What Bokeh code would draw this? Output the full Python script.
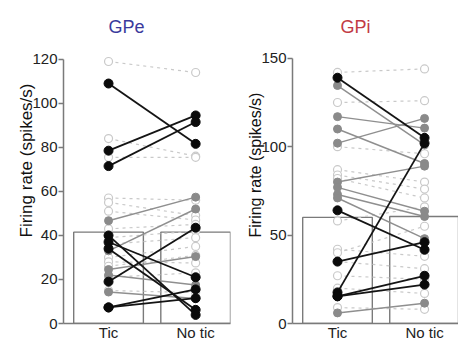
from bokeh.plotting import figure
from bokeh.layouts import row
from bokeh.models import FixedTicker, Range1d, Title
from bokeh.embed import file_html
from bokeh.resources import INLINE

categories = ["Tic", "No tic"]

# GPe
gpe_means = [41.5, 41.5]
gpe_black_tic = [109, 78.5, 71.5, 40, 37, 34, 19, 7.3, 7.3]
gpe_black_notic = [81.6, 94.5, 91.5, 3.9, 21, 6.2, 43.5, 15.5, 11.5]
gpe_gray_tic = [46.7, 33, 24.5, 22, 14.3]
gpe_gray_notic = [57.4, 52, 30.4, 17.5, 11.3]
gpe_ns_tic = [119, 84, 75.5, 57, 55, 51, 43, 39, 36, 30, 28, 26, 21, 15]
gpe_ns_notic = [114, 76, 75.5, 56, 49, 47, 45, 42, 39, 35, 27.5, 31, 23, 14]

# GPi
gpi_means = [60, 60.5]
gpi_black_tic = [139, 64, 35, 17.6, 15.4, 15.4]
gpi_black_notic = [105, 41.7, 46, 102, 27, 22]
gpi_gray_tic = [134.6, 117, 110, 102, 80, 77, 73, 71, 6]
gpi_gray_notic = [101, 110.5, 90.5, 116, 89, 63.5, 60.5, 48, 11.5]
gpi_ns_tic = [142, 125, 100, 87, 84, 82, 58, 42, 40, 35, 27, 20, 9]
gpi_ns_notic = [144, 126, 96, 80, 76, 71, 66, 38, 55, 31, 25, 17, 8]

FONT = "Liberation Sans"


def panel(title, tcolor, title_offset, means, btic, bno, gtic, gno, ntic, nno, yend, yticks,
          left_border, right_border, width, xend, label_size, label_offset, label_standoff):
    p = figure(width=width, height=343, output_backend="svg", toolbar_location=None,
               x_range=Range1d(-0.517, xend), y_range=Range1d(0, yend),
               min_border_left=left_border, min_border_right=right_border,
               min_border_top=50, min_border_bottom=0)
    p.outline_line_color = None
    p.grid.visible = False

    # bars
    p.vbar(x=[0, 1], top=means, width=0.8, bottom=0, fill_color="white",
           line_color="#7a7a7a", line_width=1.4)

    # non-significant (dashed, open)
    for a, b in zip(ntic, nno):
        p.line([0, 1], [a, b], line_color="#c9c9c9", line_dash="3 4", line_width=1.2)
    p.scatter([0] * len(ntic), ntic, size=8, fill_color="white", line_color="#c9c9c9", line_width=1.2)
    p.scatter([1] * len(nno), nno, size=8, fill_color="white", line_color="#c9c9c9", line_width=1.2)

    # gray
    for a, b in zip(gtic, gno):
        p.line([0, 1], [a, b], line_color="#8f8f8f", line_width=1.5)
    p.scatter([0] * len(gtic), gtic, size=8, fill_color="#8a8a8a", line_color="#8a8a8a")
    p.scatter([1] * len(gno), gno, size=8, fill_color="#8a8a8a", line_color="#8a8a8a")

    # black
    for a, b in zip(btic, bno):
        p.line([0, 1], [a, b], line_color="#141414", line_width=1.8)
    p.scatter([0] * len(btic), btic, size=9, fill_color="#0a0a0a", line_color="#0a0a0a")
    p.scatter([1] * len(bno), bno, size=9, fill_color="#0a0a0a", line_color="#0a0a0a")

    # axes
    p.xaxis.ticker = FixedTicker(ticks=[0, 1])
    p.xaxis.major_label_overrides = {0: categories[0], 1: categories[1]}
    p.xaxis.major_tick_line_color = None
    p.xaxis.major_tick_out = 0
    p.xaxis.major_tick_in = 0
    p.xaxis.minor_tick_line_color = None
    p.xaxis.axis_line_color = "#7a7a7a"
    p.xaxis.axis_line_width = 1.5
    p.xaxis.major_label_text_font = FONT
    p.xaxis.major_label_text_font_size = "15px"
    p.xaxis.major_label_text_color = "#222222"
    p.xaxis.major_label_standoff = 0

    p.yaxis.ticker = FixedTicker(ticks=yticks)
    p.yaxis.bounds = (0, yticks[-1])
    p.yaxis.minor_tick_line_color = None
    p.yaxis.axis_line_color = "#7a7a7a"
    p.yaxis.axis_line_width = 1.5
    p.yaxis.major_tick_line_color = "#7a7a7a"
    p.yaxis.major_tick_line_width = 1.5
    p.yaxis.major_tick_out = 5
    p.yaxis.major_tick_in = 0
    p.yaxis.major_label_text_font = FONT
    p.yaxis.major_label_text_font_size = "15px"
    p.yaxis.major_label_text_color = "#222222"
    p.yaxis.major_label_standoff = 1

    p.title = Title(text=title, text_color=tcolor, text_font=FONT, text_font_size="18px",
                    text_font_style="normal", align="left", offset=title_offset, standoff=28)
    p.add_layout(Title(text="Firing rate (spikes/s)", text_color="#111111", text_font=FONT,
                       text_font_size=label_size, text_font_style="normal", align="left",
                       offset=label_offset, standoff=label_standoff), "left")
    return p


p1 = panel("GPe", "#3a3a9c", 45, gpe_means, gpe_black_tic, gpe_black_notic, gpe_gray_tic,
           gpe_gray_notic, gpe_ns_tic, gpe_ns_notic, 124, [0, 20, 40, 60, 80, 100, 120],
           63, 3, 233, 1.40, "17px", 86, -13)
p2 = panel("GPi", "#c23a44", 48, gpi_means, gpi_black_tic, gpi_black_notic, gpi_gray_tic,
           gpi_gray_notic, gpi_ns_tic, gpi_ns_notic, 154.4, [0, 50, 100, 150],
           59, 0, 225, 1.39, "16px", 86, -11)

layout = row(p1, p2)
open("out.html", "w").write(file_html(layout, INLINE))
